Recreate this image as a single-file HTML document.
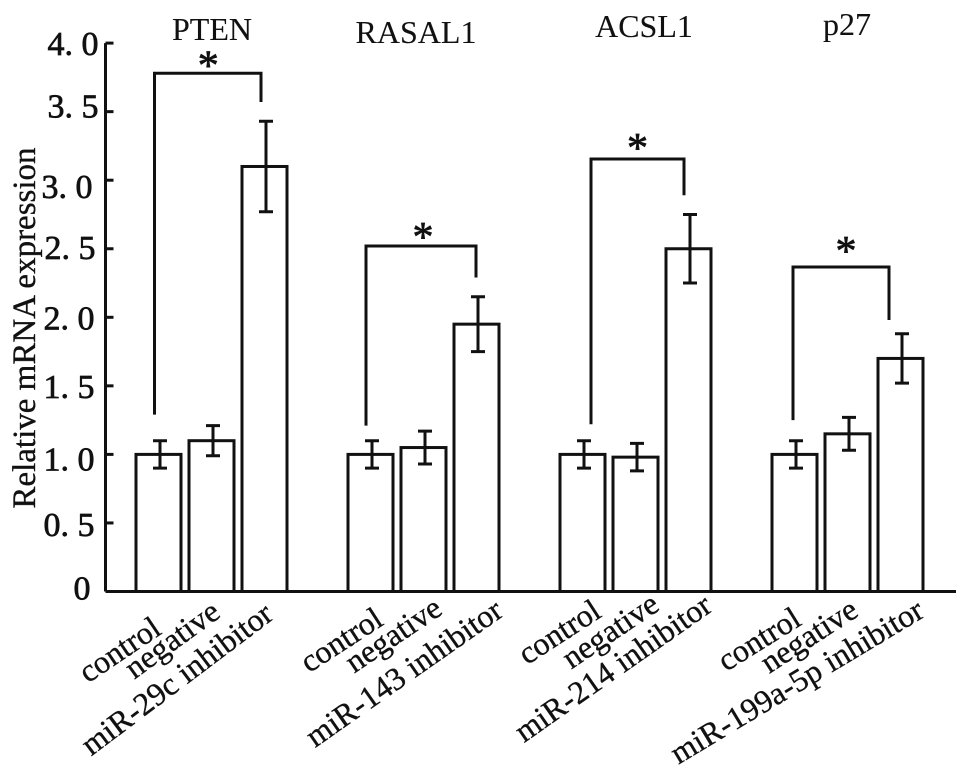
<!DOCTYPE html>
<html lang="en">
<head>
<meta charset="utf-8">
<title>Relative mRNA expression</title>
<style>
  html, body { margin: 0; padding: 0; background: #fff; }
  svg { display: block; }
  text { font-family: "Liberation Serif", serif; fill: #111; stroke: #111; stroke-width: 0.35px; }
</style>
</head>
<body>
<svg id="chart" xmlns="http://www.w3.org/2000/svg" width="969" height="777" viewBox="0 0 969 777"></svg>
<script>
// ---- data ----
const genes = ['PTEN', 'RASAL1', 'ACSL1', 'p27'];
const conditions = [
  ['control', 'negative', 'miR-29c inhibitor'],
  ['control', 'negative', 'miR-143 inhibitor'],
  ['control', 'negative', 'miR-214 inhibitor'],
  ['control', 'negative', 'miR-199a-5p inhibitor']
];
const means = [
  [1.0, 1.1, 3.1],
  [1.0, 1.05, 1.95],
  [1.0, 0.98, 2.5],
  [1.0, 1.15, 1.7]
];
const errors = [
  [0.1, 0.11, 0.33],
  [0.1, 0.12, 0.2],
  [0.1, 0.1, 0.25],
  [0.1, 0.12, 0.18]
];
const tickValues = [0, 0.5, 1, 1.5, 2, 2.5, 3, 3.5, 4];
const tickLabels = ['0', '0. 5', '1. 0', '1. 5', '2. 0', '2. 5', '3. 0', '3. 5', '4. 0'];
const bracketTops = [3.78, 2.52, 3.155, 2.367];
const bracketLeftEnds = [1.29, 1.21, 1.22, 1.25];
const bracketRightEnds = [3.57, 2.29, 2.89, 1.98];

// ---- layout ----
const NS = 'http://www.w3.org/2000/svg';
const svg = document.getElementById('chart');
const AXIS_X = 105.5, BASE_Y = 591.5, UNIT = 137.1, AXIS_END = 956;
const BAR_W = 45;
const y = v => BASE_Y - v * UNIT;
const groupX = g => 136 + g * 212;
const barX = (g, b) => groupX(g) + b * 53;
const tickNudgeY = [8, 13, 16, 12, 12, 10, 18, 6, 12];
const tickNudgeX = [-15, -11, -11, -11, -11, -10, -13, -7, -7];
const titlePos = [[212, 40], [416, 43], [644, 37], [847, 35]];
const bracketX = [[154.5, 261], [366, 476], [591, 684], [793, 889]];
const starNudge = [[0.5, 6], [2, 5], [0, 3], [5, -2]];
const labelAngle = [[34, 36, 37], [33, 34, 35], [33, 34, 35], [32, 33, 31]];
const labelEnds = [
  [[163, 633], [222, 616], [275, 618]],
  [[385, 624], [444, 613], [505, 615]],
  [[603, 616], [661, 609], [714, 610]],
  [[803, 624], [860, 615], [926, 616]]
];

function el(tag, attrs, parent) {
  const n = document.createElementNS(NS, tag);
  for (const k in attrs) n.setAttribute(k, attrs[k]);
  (parent || svg).appendChild(n);
  return n;
}
const stroke = { stroke: '#111', 'stroke-width': 3, fill: 'none' };

// ---- bars, error bars ----
genes.forEach((gene, g) => {
  const grp = el('g', {});
  
  

  means[g].forEach((m, b) => {
    const x = barX(g, b);
    const bar = el('rect', { x: x, y: y(m), width: BAR_W, height: BASE_Y - y(m), fill: '#fff', stroke: '#111', 'stroke-width': 3 }, grp);
    
    

    const cx = x + BAR_W / 2 + 1.5;
    const top = y(m + errors[g][b]), bot = y(m - errors[g][b]);
    const err = el('path', Object.assign({ d: `M${cx} ${top}V${bot}M${cx - 7} ${top}H${cx + 7}M${cx - 7} ${bot}H${cx + 7}` }, stroke), grp);
    
    

    const [ex, ey] = labelEnds[g][b];
    const lab = el('text', { x: ex, y: ey, 'text-anchor': 'end', 'font-size': 32, transform: `rotate(${-labelAngle[g][b]} ${ex} ${ey})` }, grp);
    lab.textContent = conditions[g][b];
    
    
  });

  // significance bracket
  const [lx, rx] = bracketX[g];
  const tp = y(bracketTops[g]);
  const br = el('path', Object.assign({ d: `M${lx} ${y(bracketLeftEnds[g])}V${tp}H${rx}V${y(bracketRightEnds[g])}` }, stroke), grp);
  
  

  const star = el('text', { x: (lx + rx) / 2 + starNudge[g][0], y: tp + starNudge[g][1], 'text-anchor': 'middle', 'font-size': 42, style: 'stroke-width:0.8px' }, grp);
  star.textContent = '*';
  
  

  const title = el('text', { x: titlePos[g][0], y: titlePos[g][1], 'text-anchor': 'middle', 'font-size': 32, style: 'stroke-width:0.1px' }, grp);
  title.textContent = gene;
  
  
});

// ---- axes ----
const xAxis = el('path', Object.assign({ d: `M${AXIS_X} ${BASE_Y}H${AXIS_END}` }, stroke));



const yAxis = el('path', Object.assign({ d: `M${AXIS_X} ${y(4)}V${BASE_Y}` }, stroke));



tickValues.forEach((v, i) => {
  const t = el('path', Object.assign({ d: `M${AXIS_X} ${y(v)}H${AXIS_X + 8}` }, stroke));
  
  

  const lab = el('text', { x: AXIS_X + tickNudgeX[i], y: y(v) + tickNudgeY[i], 'text-anchor': 'end', 'font-size': 34, style: 'stroke-width:0.7px' });
  lab.textContent = tickLabels[i];
  
  
});

const yTitle = el('text', { x: 0, y: 0, 'text-anchor': 'middle', 'font-size': 33, transform: 'translate(35 328) rotate(-90)' });
yTitle.textContent = 'Relative mRNA expression';


</script>
</body>
</html>
